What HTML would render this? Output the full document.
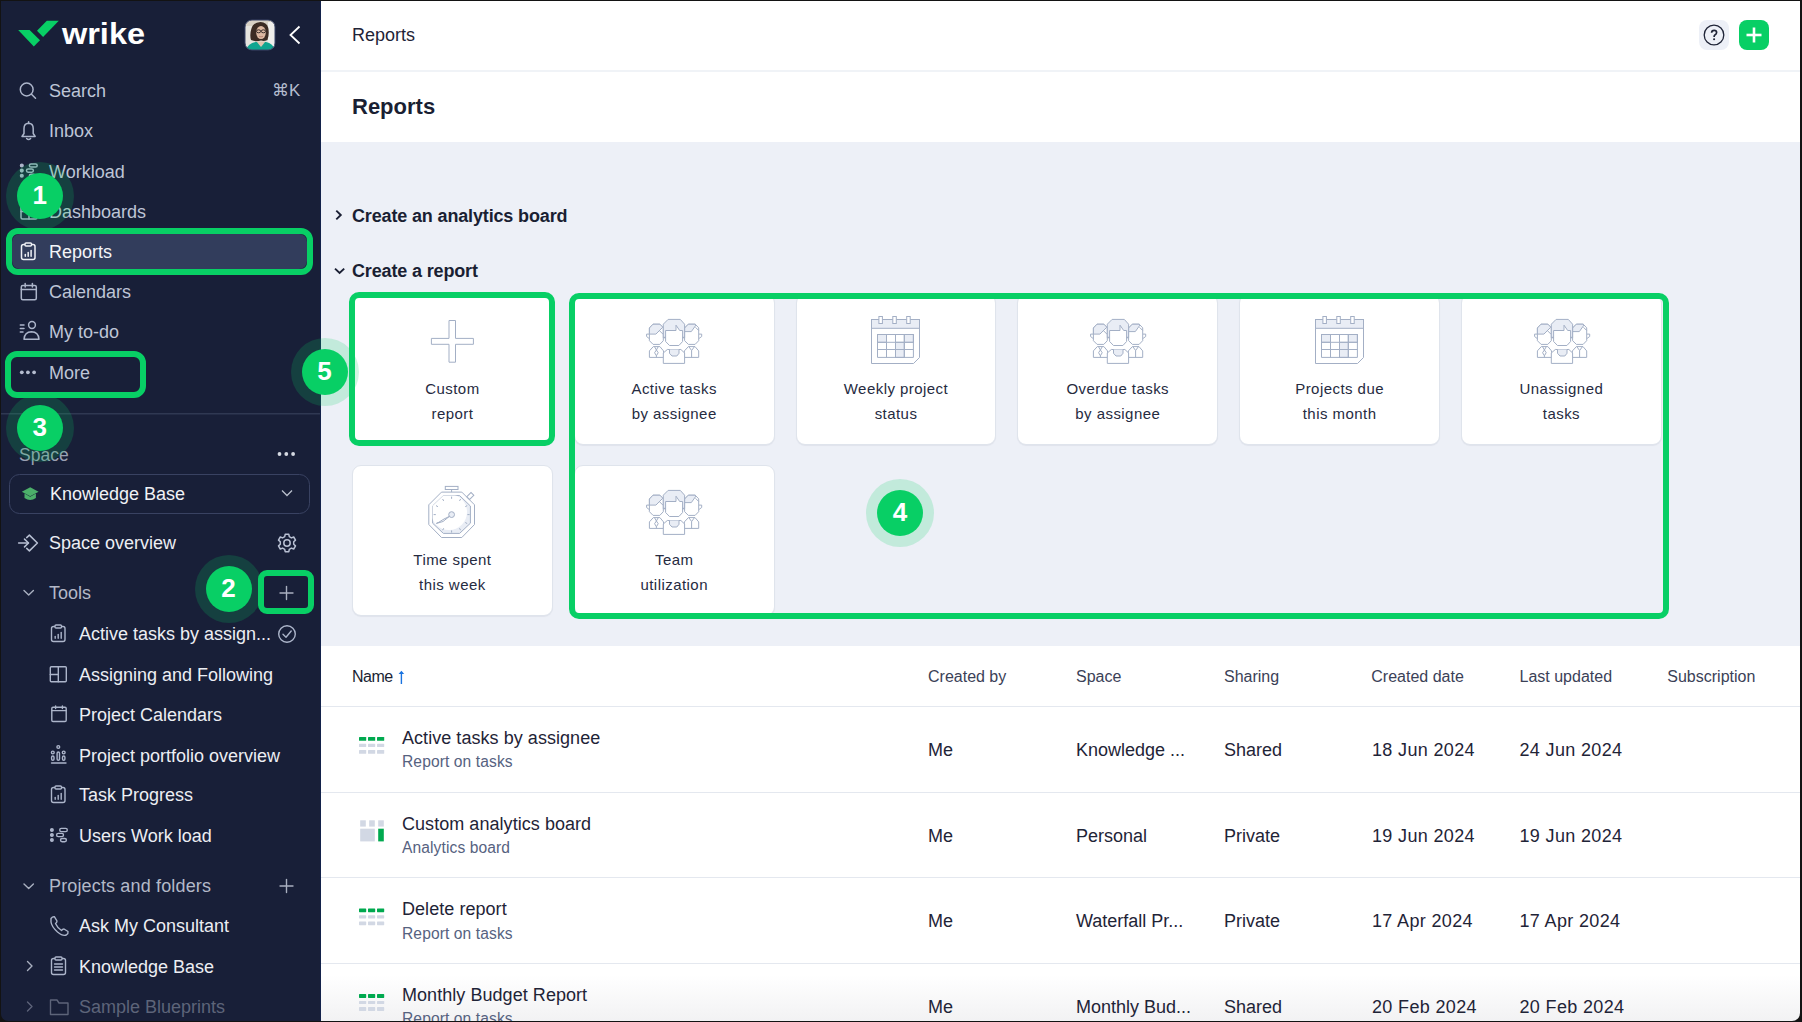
<!DOCTYPE html>
<html><head><meta charset="utf-8">
<style>
*{margin:0;padding:0;box-sizing:border-box}
html,body{width:1802px;height:1022px;overflow:hidden;background:#141414;font-family:"Liberation Sans",sans-serif}
.abs{position:absolute}
#win{position:absolute;left:0;top:0;width:1802px;height:1022px;overflow:hidden;background:#fff}
#side{position:absolute;left:0;top:0;width:321px;height:1022px;background:#181f38}
.ni{position:absolute;left:0;height:40px;line-height:40px;font-size:18px;color:#bec5d6;white-space:nowrap}
.ni svg{position:absolute}
.ni .t{position:absolute;left:49px;top:0}
.sub .t{left:79px}
#main{position:absolute;left:321px;top:0;width:1481px;height:1022px;background:#fff}
.card{position:absolute;width:200.8px;height:151px;background:#fff;border:1px solid #dfe4ec;border-radius:9px;box-shadow:0 1px 1px rgba(30,40,70,.06)}
.card .lbl{position:absolute;left:0;width:198.8px;text-align:center;font-size:15px;letter-spacing:.45px;line-height:25px;color:#262b3f}
.gbox{position:absolute;border:6px solid #08cf65;border-radius:10px}
.badge{position:absolute;width:68px;height:68px;border-radius:50%;background:rgba(8,207,101,.19)}
.badge b{position:absolute;left:11px;top:11px;width:46px;height:46px;border-radius:50%;background:#08cf65;color:#fff;font-size:26px;font-weight:bold;text-align:center;line-height:44px}
.th{position:absolute;top:666px;font-size:16px;line-height:22px;color:#3b4157;white-space:nowrap}
.td{position:absolute;font-size:18px;line-height:24px;color:#1f2437;white-space:nowrap}
.rt{position:absolute;left:402px;font-size:18px;line-height:24px;color:#1f2437;white-space:nowrap;letter-spacing:.05px}
.rs{position:absolute;left:402px;font-size:15.6px;line-height:22px;color:#56627f;white-space:nowrap;letter-spacing:.1px}
.hl{position:absolute;left:321px;width:1479px;height:1px;background:#e4e8ef}
</style></head><body>
<div id="win">
<div id="side">
<svg class="abs" style="left:0;top:0" width="321" height="1022" viewBox="0 0 321 1022">
 <!-- logo -->
 <polygon points="18.2,30 29.6,30 40,40.3 33.8,46.4" fill="#08cf65"/>
 <polygon points="37,30.8 46.8,20.8 58.8,20.8 43.1,37" fill="#08cf65"/>
 <text x="62" y="43.5" font-family="Liberation Sans" font-weight="bold" font-size="29" fill="#fff" textLength="83" lengthAdjust="spacingAndGlyphs">wrike</text>
 <!-- avatar -->
 <defs><clipPath id="av"><rect x="245" y="20" width="30" height="30" rx="7"/></clipPath></defs>
 <g clip-path="url(#av)">
  <rect x="245" y="20" width="30" height="30" fill="#e6e4de"/>
  <rect x="245" y="20" width="30" height="6" fill="#d8d2c6"/>
  <rect x="268" y="22" width="7" height="26" fill="#f0efeb"/>
  <path d="M251 40 Q249.5 35 251.3 29 Q253 22.3 260.5 22 Q267 22.3 268.3 28 Q269.5 34 267.5 40 Q264 41.5 261 40.5 Q256 42 251 40 Z" fill="#3b2c24"/>
  <ellipse cx="261" cy="32.5" rx="4.8" ry="6.6" fill="#dcb9a2"/>
  <ellipse cx="258.6" cy="31.3" rx="2.1" ry="1.5" stroke="#2a2220" stroke-width="0.9" fill="none"/><ellipse cx="263.4" cy="31.3" rx="2.1" ry="1.5" stroke="#2a2220" stroke-width="0.9" fill="none"/>
  <path d="M259 36.3 Q261 37.5 263 36.3" stroke="#b07a6a" stroke-width="0.8" fill="none"/>
  <path d="M246 50 Q248 43.5 255.5 42 L266 42 Q273 43.5 275 50 Z" fill="#10a590"/>
  <path d="M256.5 41.5 L261 47 L265.5 41.5 Z" fill="#e3c4ae"/>
 </g>
 <rect x="245" y="20" width="30" height="30" rx="7" fill="none" stroke="#3a4466" stroke-width="1"/>
 <!-- collapse chevron -->
 <polyline points="299.5,26.5 290.5,35 299.5,43.5" fill="none" stroke="#fff" stroke-width="1.8"/>
 <g fill="none" stroke="#acb5ca" stroke-width="1.5" stroke-linecap="round" stroke-linejoin="round">
  <!-- search -->
  <circle cx="26.7" cy="89.5" r="6.4"/>
  <line x1="31.5" y1="94.3" x2="35.5" y2="98.3"/>
  <!-- bell -->
  <path d="M22 136.5 L24 133.5 L24 128.5 Q24 123.5 28.6 123.3 Q33.2 123.5 33.2 128.5 L33.2 133.5 L35.2 136.5 Z"/>
  <path d="M26.6 138.5 Q28.6 140.5 30.6 138.5"/>
  <line x1="28.6" y1="121.8" x2="28.6" y2="123.2"/>
  <!-- workload -->
  <circle cx="21.8" cy="165.5" r="1.3" fill="#acb5ca"/><circle cx="21.8" cy="170.6" r="1.3" fill="#acb5ca"/><circle cx="21.8" cy="175.8" r="1.3" fill="#acb5ca"/>
  <rect x="29.4" y="163.9" width="7.8" height="3.2" rx="1.6"/>
  <rect x="26.5" y="169" width="6.9" height="3.2" rx="1.6"/>
  <rect x="29.4" y="174.2" width="5.9" height="3.2" rx="1.6"/>
  <!-- dashboards -->
  <rect x="21" y="204" width="16" height="15" rx="1.5"/>
  <line x1="21" y1="211.5" x2="37" y2="211.5"/><line x1="29" y1="204" x2="29" y2="219"/>
 </g>
 <!-- reports highlight -->
 <rect x="12" y="234" width="295" height="35" rx="8" fill="#323d5c"/>
 <g fill="none" stroke="#eef0f5" stroke-width="1.5" stroke-linecap="round" stroke-linejoin="round">
  <rect x="21.5" y="244.5" width="13.5" height="15" rx="2"/>
  <rect x="25" y="243" width="6.5" height="3" rx="1" fill="#323d5c"/>
  <line x1="25.3" y1="256.3" x2="25.3" y2="254.5"/><line x1="28.2" y1="256.3" x2="28.2" y2="252.5"/><line x1="31.1" y1="256.3" x2="31.1" y2="250.5"/>
 </g>
 <g fill="none" stroke="#acb5ca" stroke-width="1.5" stroke-linecap="round" stroke-linejoin="round">
  <!-- calendar -->
  <rect x="21.3" y="285.5" width="15" height="14.3" rx="1.5"/>
  <line x1="21.3" y1="289.6" x2="36.3" y2="289.6"/>
  <line x1="25.2" y1="283.5" x2="25.2" y2="287"/><line x1="32.4" y1="283.5" x2="32.4" y2="287"/>
  <!-- my to-do -->
  <circle cx="32" cy="325" r="3.4"/>
  <path d="M24 339.3 Q24.5 332 31.5 331.8 Q38.5 332 39 339.3 Z"/>
  <line x1="20.3" y1="325" x2="24" y2="325"/><line x1="20.3" y1="328.5" x2="24" y2="328.5"/><line x1="20.3" y1="332" x2="23" y2="332"/>
 </g>
 <g fill="#b4bccf"><circle cx="21.8" cy="372.3" r="1.9"/><circle cx="27.9" cy="372.3" r="1.9"/><circle cx="34.1" cy="372.3" r="1.9"/></g>
 <!-- separator -->
 <rect x="0" y="413" width="321" height="1.5" fill="#2f3852"/>
 <!-- space dots -->
 <g fill="#d5d9e2"><circle cx="279.5" cy="454" r="1.9"/><circle cx="286.3" cy="454" r="1.9"/><circle cx="293.1" cy="454" r="1.9"/></g>
 <!-- knowledge base dropdown -->
 <rect x="9.5" y="474.5" width="300" height="39" rx="10" fill="none" stroke="#394262" stroke-width="1"/>
 <path d="M21.8 491.8 L30.2 487.3 L38.6 491.8 L30.2 496.3 Z" fill="#4caf6a"/>
 <path d="M24.5 493.5 L24.5 498 Q30.2 501.8 35.9 498 L35.9 493.5 L30.2 496.8 Z" fill="#4caf6a"/>
 <polyline points="282,490.5 287,495.5 292,490.5" fill="none" stroke="#b9bfcc" stroke-width="1.3"/>
 <g fill="none" stroke="#b8c0d3" stroke-width="1.5" stroke-linecap="round" stroke-linejoin="round">
  <!-- space overview icon -->
  <line x1="18.6" y1="543" x2="28.4" y2="543"/>
  <polyline points="24.5,539.1 28.5,543 24.5,546.9"/>
  <polyline points="26.7,537.6 29.4,535.1 37.4,543 29.4,550.9 26.7,548.4"/>
  <!-- gear -->
  <circle cx="287" cy="543" r="3.2"/>
  <path d="M285.2 534.3 L288.8 534.3 L289.3 536.7 L291.4 537.9 L293.7 537 L295.5 540.1 L293.7 541.7 L293.7 544.3 L295.5 545.9 L293.7 549 L291.4 548.1 L289.3 549.3 L288.8 551.7 L285.2 551.7 L284.7 549.3 L282.6 548.1 L280.3 549 L278.5 545.9 L280.3 544.3 L280.3 541.7 L278.5 540.1 L280.3 537 L282.6 537.9 L284.7 536.7 Z"/>
 </g>
 <g fill="none" stroke="#a9b0c0" stroke-width="1.4" stroke-linecap="round" stroke-linejoin="round">
  <polyline points="24,590.5 28.7,595 33.4,590.5"/>
  <line x1="280" y1="593" x2="293" y2="593"/><line x1="286.5" y1="586.5" x2="286.5" y2="599.5"/>
  <polyline points="24,884 28.7,888.5 33.4,884"/>
  <line x1="280" y1="886" x2="293" y2="886"/><line x1="286.5" y1="879.5" x2="286.5" y2="892.5"/>
  <polyline points="27.5,961.5 32,966 27.5,970.5"/>
 </g>
 <g fill="none" stroke="#acb5ca" stroke-width="1.4" stroke-linecap="round" stroke-linejoin="round">
  <!-- sub icons -->
  <rect x="51.5" y="626.5" width="13.5" height="15" rx="2"/>
  <rect x="55" y="625" width="6.5" height="3" rx="1" fill="#181f38"/>
  <line x1="55.2" y1="638.3" x2="55.2" y2="636.5"/><line x1="58.2" y1="638.3" x2="58.2" y2="634.5"/><line x1="61.2" y1="638.3" x2="61.2" y2="632.5"/>
  <circle cx="287" cy="634" r="8.3"/>
  <polyline points="283,634.3 286,637.2 291.2,631"/>
  <rect x="50.3" y="666.8" width="16" height="15" rx="1"/>
  <line x1="50.3" y1="674.5" x2="58.3" y2="674.5"/><line x1="58.3" y1="666.8" x2="58.3" y2="681.8"/>
  <rect x="51.8" y="707.2" width="14.4" height="14.3" rx="1.2"/>
  <line x1="51.8" y1="710.6" x2="66.2" y2="710.6"/>
  <line x1="55.6" y1="705.9" x2="55.6" y2="708.6"/><line x1="62.4" y1="705.9" x2="62.4" y2="708.6"/>
  <line x1="51.5" y1="763" x2="66" y2="763"/>
  <circle cx="58.3" cy="747" r="1.4"/><circle cx="52.8" cy="752.5" r="1.4"/><circle cx="63.7" cy="752.5" r="1.4"/>
  <rect x="51.6" y="756" width="2.4" height="4.2" rx="1.2"/><rect x="57.1" y="752" width="2.4" height="8.2" rx="1.2"/><rect x="62.5" y="756" width="2.4" height="4.2" rx="1.2"/>
  <rect x="51.5" y="787.5" width="13.5" height="15" rx="2"/>
  <rect x="55" y="786" width="6.5" height="3" rx="1" fill="#181f38"/>
  <line x1="55.2" y1="799.3" x2="55.2" y2="797.5"/><line x1="58.2" y1="799.3" x2="58.2" y2="795.5"/><line x1="61.2" y1="799.3" x2="61.2" y2="793.5"/>
  <circle cx="51.9" cy="830" r="1.3" fill="#acb5ca"/><circle cx="51.9" cy="835" r="1.3" fill="#acb5ca"/><circle cx="51.9" cy="840.1" r="1.3" fill="#acb5ca"/>
  <rect x="59.7" y="828.4" width="7.6" height="3.2" rx="1.6"/>
  <rect x="56.6" y="833.4" width="6.9" height="3.2" rx="1.6"/>
  <rect x="60.5" y="838.5" width="5.9" height="3.2" rx="1.6"/>
  <!-- phone -->
  <path d="M51 918.5 Q52.5 916.5 54.5 916.8 L57 921 Q57 922.5 55.5 923.5 Q57.5 928 61.5 930.5 Q62.5 929 64 929 L68 931.5 Q68.5 933.5 66.3 935 Q63 936.5 57.5 932 Q51.5 926.5 51 922 Z"/>
  <!-- knowledge base clipboard -->
  <rect x="51.5" y="958.5" width="14" height="16" rx="2"/>
  <rect x="55" y="957" width="7" height="3" rx="1" fill="#181f38"/>
  <line x1="54.5" y1="964" x2="62.5" y2="964"/><line x1="54.5" y1="967" x2="62.5" y2="967"/><line x1="54.5" y1="970" x2="62.5" y2="970"/>
 </g>
 <g fill="none" stroke="#5d6479" stroke-width="1.4" stroke-linecap="round" stroke-linejoin="round">
  <polyline points="27.5,1002 32,1006.5 27.5,1011"/>
  <path d="M50.5 1000 L50.5 1014.5 L68 1014.5 L68 1003 L59 1003 L57 1000 Z"/>
 </g>
</svg>
<div class="ni" style="top:71.1px"><span class="t">Search</span><span style="position:absolute;left:272px;font-size:17px;color:#b4bccf">&#8984;K</span></div>
<div class="ni" style="top:111.3px"><span class="t">Inbox</span></div>
<div class="ni" style="top:151.5px"><span class="t">Workload</span></div>
<div class="ni" style="top:191.7px"><span class="t">Dashboards</span></div>
<div class="ni" style="top:231.9px;color:#f4f5f8"><span class="t">Reports</span></div>
<div class="ni" style="top:272.1px"><span class="t">Calendars</span></div>
<div class="ni" style="top:312.3px"><span class="t">My to-do</span></div>
<div class="ni" style="top:352.5px"><span class="t">More</span></div>
<div class="ni" style="top:434.7px;color:#9aa1b3;font-size:17.5px"><span class="t" style="left:19px">Space</span></div>
<div class="ni" style="top:473.8px;color:#f0f2f6"><span class="t" style="left:50px">Knowledge Base</span></div>
<div class="ni" style="top:522.7px;color:#eceef3"><span class="t">Space overview</span></div>
<div class="ni" style="top:572.8px;color:#b3b9c8"><span class="t">Tools</span></div>
<div class="ni sub" style="top:614.2px;color:#eceef3"><span class="t">Active tasks by assign...</span></div>
<div class="ni sub" style="top:654.7px;color:#eceef3"><span class="t">Assigning and Following</span></div>
<div class="ni sub" style="top:694.8px;color:#eceef3"><span class="t">Project Calendars</span></div>
<div class="ni sub" style="top:735.5px;color:#eceef3"><span class="t">Project portfolio overview</span></div>
<div class="ni sub" style="top:775.3px;color:#eceef3"><span class="t">Task Progress</span></div>
<div class="ni sub" style="top:815.9px;color:#eceef3"><span class="t">Users Work load</span></div>
<div class="ni" style="top:866.3px;color:#b3b9c8"><span class="t" style="letter-spacing:.15px">Projects and folders</span></div>
<div class="ni sub" style="top:906.2px;color:#eceef3"><span class="t">Ask My Consultant</span></div>
<div class="ni sub" style="top:946.6px;color:#eceef3"><span class="t">Knowledge Base</span></div>
<div class="ni sub" style="top:986.6px;color:#5d6479"><span class="t">Sample Blueprints</span></div>
</div>
<div id="main"></div>
<div class="abs" style="left:321px;top:70px;width:1479px;height:2px;background:#f0f3f7"></div>
<div class="abs" style="left:320px;top:0;width:1px;height:1022px;background:#13224a"></div>
<div class="abs" style="left:352px;top:23.3px;font-size:18px;line-height:24px;color:#1f2437">Reports</div>
<div class="abs" style="left:1699px;top:20px;width:30px;height:30px;border-radius:8px;background:#edf0f7"></div>
<div class="abs" style="left:1739px;top:20px;width:30px;height:30px;border-radius:8px;background:#08cf65"></div>
<svg class="abs" style="left:1699px;top:20px" width="70" height="30" viewBox="0 0 70 30">
 <circle cx="15" cy="15" r="9.8" fill="none" stroke="#1f2437" stroke-width="1.3"/>
 <path d="M12.6 12.8 Q12.6 10.3 15.1 10.3 Q17.6 10.3 17.6 12.6 Q17.6 14.1 15.9 15 Q15.1 15.5 15.1 16.9" fill="none" stroke="#1f2437" stroke-width="1.7"/>
 <circle cx="15.1" cy="19.3" r="1.05" fill="#1f2437"/>
 <line x1="47.5" y1="15" x2="62.5" y2="15" stroke="#fff" stroke-width="2.6"/>
 <line x1="55" y1="7.5" x2="55" y2="22.5" stroke="#fff" stroke-width="2.6"/>
</svg>
<div class="abs" style="left:352px;top:92.7px;font-size:22px;line-height:28px;font-weight:bold;color:#1a1f33">Reports</div>
<div class="abs" style="left:321px;top:142px;width:1479px;height:504px;background:#edf0f7"></div>
<svg class="abs" style="left:330px;top:205px" width="20" height="75" viewBox="0 0 20 75">
 <polyline points="6.3,5.6 10.8,10 6.3,14.4" fill="none" stroke="#1a1f33" stroke-width="1.9"/>
 <polyline points="5,63.6 9.6,68 14.2,63.6" fill="none" stroke="#1a1f33" stroke-width="1.9"/>
</svg>
<div class="abs" style="left:352px;top:203.7px;font-size:18px;line-height:24px;font-weight:bold;color:#1a1f33;letter-spacing:-.15px">Create an analytics board</div>
<div class="abs" style="left:352px;top:259.1px;font-size:18px;line-height:24px;font-weight:bold;color:#1a1f33;letter-spacing:-.15px">Create a report</div>
<div class="card" style="left:352.0px;top:294px"><div class="lbl" style="top:80.9px">Custom<br>report</div></div>
<div class="card" style="left:573.8px;top:294px"><div class="lbl" style="top:80.9px">Active tasks<br>by assignee</div></div>
<div class="card" style="left:795.6px;top:294px"><div class="lbl" style="top:80.9px">Weekly project<br>status</div></div>
<div class="card" style="left:1017.4px;top:294px"><div class="lbl" style="top:80.9px">Overdue tasks<br>by assignee</div></div>
<div class="card" style="left:1239.2px;top:294px"><div class="lbl" style="top:80.9px">Projects due<br>this month</div></div>
<div class="card" style="left:1461.0px;top:294px"><div class="lbl" style="top:80.9px">Unassigned<br>tasks</div></div>
<div class="card" style="left:352.0px;top:465px"><div class="lbl" style="top:80.9px">Time spent<br>this week</div></div>
<div class="card" style="left:573.8px;top:465px"><div class="lbl" style="top:80.9px">Team<br>utilization</div></div>

<svg class="abs" style="left:0;top:0" width="1802" height="1022" viewBox="0 0 1802 1022"><polygon points="449,320.5 455.5,320.5 455.5,338.4 473.4,338.4 473.4,344.3 455.5,344.3 455.5,362.2 449,362.2 449,344.3 431.4,344.3 431.4,338.4 449,338.4" fill="none" stroke="#a3afc5" stroke-width="1"/><g transform="translate(640,312)"><g fill="none" stroke="#a3afc5" stroke-width="1" stroke-linejoin="miter">
 <path d="M6.6 22.1 L9.4 22.1 M6.6 22.1 L6.6 24.5 L9.4 26.7"/>
 <path d="M61.7 22.1 L58.7 22.1 M61.7 22.1 L61.7 24.5 L58.7 26.7"/>
 <polygon points="13,12.2 19.9,12.2 23.3,15.8 23.3,28.7 19.8,32.4 13.1,32.4 9.4,28.7 9.4,16" fill="#fff"/>
 <polygon points="9.4,16 13,12.2 19.9,12.2 22.8,15.2 15.9,22.1 9.4,22.1" fill="#e9edf5"/>
 <line x1="19.8" y1="19" x2="23.3" y2="22.5"/>
 <polygon points="48.3,12.2 55.2,12.2 58.7,15.8 58.7,28.7 55.1,32.4 48.4,32.4 44.6,28.7 44.6,16" fill="#fff"/>
 <polygon points="44.6,16 48.3,12.2 55.2,12.2 56,13 51.3,19.6 44.6,19.6" fill="#e9edf5"/>
 <line x1="55.5" y1="15.3" x2="58.7" y2="18.5"/>
 <path d="M23.3 25.8 L23.3 12.2 L28.1 7.4 L40.3 7.4 L44.6 12.2 L44.6 25.8 Z" fill="#e9edf5"/>
 <polygon points="25.6,18.5 36,18.5 36,13.2 39.7,18.5 42.6,18.5 42.6,29.5 38.9,33.5 29.5,33.5 25.6,29.5" fill="#fff"/>
 <line x1="23.3" y1="25.3" x2="25.6" y2="25.3"/><line x1="42.6" y1="25.3" x2="44.6" y2="25.3"/>
 <polygon points="9.4,45.4 9.4,38.9 13.3,34.6 19.9,34.6 23.5,38.9 23.5,45.4" fill="#fff"/>
 <path d="M14.5 34.6 L16.4 38 L18.3 34.6 M16.4 38 L18.2 40.7 L16.4 43.8 L14.6 40.7 Z M16.4 43.8 L16.4 45.4"/>
 <polygon points="44.4,45.4 44.4,38.9 48.4,34.6 55,34.6 58.7,38.9 58.7,45.4" fill="#fff"/>
 <path d="M48.8 34.6 L51.6 38.5 L54.5 34.6 M51.6 38.5 L51.6 45.4"/>
 <polygon points="23.3,51.4 23.3,41 27.3,37.5 40.9,37.5 44.6,41 44.6,51.4" fill="#fff"/>
 <path d="M29.5 37.5 L29.5 41.3 L32 44 L36.8 44 L39 41.3 L39 37.5" fill="#e9edf5"/>
</g></g><g transform="translate(1084,312)"><g fill="none" stroke="#a3afc5" stroke-width="1" stroke-linejoin="miter">
 <path d="M6.6 22.1 L9.4 22.1 M6.6 22.1 L6.6 24.5 L9.4 26.7"/>
 <path d="M61.7 22.1 L58.7 22.1 M61.7 22.1 L61.7 24.5 L58.7 26.7"/>
 <polygon points="13,12.2 19.9,12.2 23.3,15.8 23.3,28.7 19.8,32.4 13.1,32.4 9.4,28.7 9.4,16" fill="#fff"/>
 <polygon points="9.4,16 13,12.2 19.9,12.2 22.8,15.2 15.9,22.1 9.4,22.1" fill="#e9edf5"/>
 <line x1="19.8" y1="19" x2="23.3" y2="22.5"/>
 <polygon points="48.3,12.2 55.2,12.2 58.7,15.8 58.7,28.7 55.1,32.4 48.4,32.4 44.6,28.7 44.6,16" fill="#fff"/>
 <polygon points="44.6,16 48.3,12.2 55.2,12.2 56,13 51.3,19.6 44.6,19.6" fill="#e9edf5"/>
 <line x1="55.5" y1="15.3" x2="58.7" y2="18.5"/>
 <path d="M23.3 25.8 L23.3 12.2 L28.1 7.4 L40.3 7.4 L44.6 12.2 L44.6 25.8 Z" fill="#e9edf5"/>
 <polygon points="25.6,18.5 36,18.5 36,13.2 39.7,18.5 42.6,18.5 42.6,29.5 38.9,33.5 29.5,33.5 25.6,29.5" fill="#fff"/>
 <line x1="23.3" y1="25.3" x2="25.6" y2="25.3"/><line x1="42.6" y1="25.3" x2="44.6" y2="25.3"/>
 <polygon points="9.4,45.4 9.4,38.9 13.3,34.6 19.9,34.6 23.5,38.9 23.5,45.4" fill="#fff"/>
 <path d="M14.5 34.6 L16.4 38 L18.3 34.6 M16.4 38 L18.2 40.7 L16.4 43.8 L14.6 40.7 Z M16.4 43.8 L16.4 45.4"/>
 <polygon points="44.4,45.4 44.4,38.9 48.4,34.6 55,34.6 58.7,38.9 58.7,45.4" fill="#fff"/>
 <path d="M48.8 34.6 L51.6 38.5 L54.5 34.6 M51.6 38.5 L51.6 45.4"/>
 <polygon points="23.3,51.4 23.3,41 27.3,37.5 40.9,37.5 44.6,41 44.6,51.4" fill="#fff"/>
 <path d="M29.5 37.5 L29.5 41.3 L32 44 L36.8 44 L39 41.3 L39 37.5" fill="#e9edf5"/>
</g></g><g transform="translate(1528,312)"><g fill="none" stroke="#a3afc5" stroke-width="1" stroke-linejoin="miter">
 <path d="M6.6 22.1 L9.4 22.1 M6.6 22.1 L6.6 24.5 L9.4 26.7"/>
 <path d="M61.7 22.1 L58.7 22.1 M61.7 22.1 L61.7 24.5 L58.7 26.7"/>
 <polygon points="13,12.2 19.9,12.2 23.3,15.8 23.3,28.7 19.8,32.4 13.1,32.4 9.4,28.7 9.4,16" fill="#fff"/>
 <polygon points="9.4,16 13,12.2 19.9,12.2 22.8,15.2 15.9,22.1 9.4,22.1" fill="#e9edf5"/>
 <line x1="19.8" y1="19" x2="23.3" y2="22.5"/>
 <polygon points="48.3,12.2 55.2,12.2 58.7,15.8 58.7,28.7 55.1,32.4 48.4,32.4 44.6,28.7 44.6,16" fill="#fff"/>
 <polygon points="44.6,16 48.3,12.2 55.2,12.2 56,13 51.3,19.6 44.6,19.6" fill="#e9edf5"/>
 <line x1="55.5" y1="15.3" x2="58.7" y2="18.5"/>
 <path d="M23.3 25.8 L23.3 12.2 L28.1 7.4 L40.3 7.4 L44.6 12.2 L44.6 25.8 Z" fill="#e9edf5"/>
 <polygon points="25.6,18.5 36,18.5 36,13.2 39.7,18.5 42.6,18.5 42.6,29.5 38.9,33.5 29.5,33.5 25.6,29.5" fill="#fff"/>
 <line x1="23.3" y1="25.3" x2="25.6" y2="25.3"/><line x1="42.6" y1="25.3" x2="44.6" y2="25.3"/>
 <polygon points="9.4,45.4 9.4,38.9 13.3,34.6 19.9,34.6 23.5,38.9 23.5,45.4" fill="#fff"/>
 <path d="M14.5 34.6 L16.4 38 L18.3 34.6 M16.4 38 L18.2 40.7 L16.4 43.8 L14.6 40.7 Z M16.4 43.8 L16.4 45.4"/>
 <polygon points="44.4,45.4 44.4,38.9 48.4,34.6 55,34.6 58.7,38.9 58.7,45.4" fill="#fff"/>
 <path d="M48.8 34.6 L51.6 38.5 L54.5 34.6 M51.6 38.5 L51.6 45.4"/>
 <polygon points="23.3,51.4 23.3,41 27.3,37.5 40.9,37.5 44.6,41 44.6,51.4" fill="#fff"/>
 <path d="M29.5 37.5 L29.5 41.3 L32 44 L36.8 44 L39 41.3 L39 37.5" fill="#e9edf5"/>
</g></g><g transform="translate(640,483)"><g fill="none" stroke="#a3afc5" stroke-width="1" stroke-linejoin="miter">
 <path d="M6.6 22.1 L9.4 22.1 M6.6 22.1 L6.6 24.5 L9.4 26.7"/>
 <path d="M61.7 22.1 L58.7 22.1 M61.7 22.1 L61.7 24.5 L58.7 26.7"/>
 <polygon points="13,12.2 19.9,12.2 23.3,15.8 23.3,28.7 19.8,32.4 13.1,32.4 9.4,28.7 9.4,16" fill="#fff"/>
 <polygon points="9.4,16 13,12.2 19.9,12.2 22.8,15.2 15.9,22.1 9.4,22.1" fill="#e9edf5"/>
 <line x1="19.8" y1="19" x2="23.3" y2="22.5"/>
 <polygon points="48.3,12.2 55.2,12.2 58.7,15.8 58.7,28.7 55.1,32.4 48.4,32.4 44.6,28.7 44.6,16" fill="#fff"/>
 <polygon points="44.6,16 48.3,12.2 55.2,12.2 56,13 51.3,19.6 44.6,19.6" fill="#e9edf5"/>
 <line x1="55.5" y1="15.3" x2="58.7" y2="18.5"/>
 <path d="M23.3 25.8 L23.3 12.2 L28.1 7.4 L40.3 7.4 L44.6 12.2 L44.6 25.8 Z" fill="#e9edf5"/>
 <polygon points="25.6,18.5 36,18.5 36,13.2 39.7,18.5 42.6,18.5 42.6,29.5 38.9,33.5 29.5,33.5 25.6,29.5" fill="#fff"/>
 <line x1="23.3" y1="25.3" x2="25.6" y2="25.3"/><line x1="42.6" y1="25.3" x2="44.6" y2="25.3"/>
 <polygon points="9.4,45.4 9.4,38.9 13.3,34.6 19.9,34.6 23.5,38.9 23.5,45.4" fill="#fff"/>
 <path d="M14.5 34.6 L16.4 38 L18.3 34.6 M16.4 38 L18.2 40.7 L16.4 43.8 L14.6 40.7 Z M16.4 43.8 L16.4 45.4"/>
 <polygon points="44.4,45.4 44.4,38.9 48.4,34.6 55,34.6 58.7,38.9 58.7,45.4" fill="#fff"/>
 <path d="M48.8 34.6 L51.6 38.5 L54.5 34.6 M51.6 38.5 L51.6 45.4"/>
 <polygon points="23.3,51.4 23.3,41 27.3,37.5 40.9,37.5 44.6,41 44.6,51.4" fill="#fff"/>
 <path d="M29.5 37.5 L29.5 41.3 L32 44 L36.8 44 L39 41.3 L39 37.5" fill="#e9edf5"/>
</g></g><g transform="translate(871,316)"><g fill="none" stroke="#a3afc5" stroke-width="1">
 <path d="M0.5 3.5 L48.5 3.5 L48.5 41.5 L42.5 47.5 L0.5 47.5 Z" fill="#fff"/>
 <rect x="0.5" y="3.5" width="48" height="8.8" fill="#e9edf5"/>
 <rect x="6.5" y="18.5" width="9.0" height="7.800000000000011" fill="#e9edf5"/><rect x="33.299999999999955" y="18.5" width="9.100000000000023" height="7.800000000000011" fill="#e9edf5"/><rect x="24.5" y="26.30000000000001" width="8.799999999999955" height="7.199999999999989" fill="#e9edf5"/><rect x="24.5" y="33.5" width="8.799999999999955" height="7.899999999999977" fill="#e9edf5"/><line x1="6.5" y1="18.5" x2="6.5" y2="41.39999999999998"/><line x1="15.5" y1="18.5" x2="15.5" y2="41.39999999999998"/><line x1="24.5" y1="18.5" x2="24.5" y2="41.39999999999998"/><line x1="33.299999999999955" y1="18.5" x2="33.299999999999955" y2="41.39999999999998"/><line x1="42.39999999999998" y1="18.5" x2="42.39999999999998" y2="41.39999999999998"/><line x1="6.5" y1="18.5" x2="42.39999999999998" y2="18.5"/><line x1="6.5" y1="26.30000000000001" x2="42.39999999999998" y2="26.30000000000001"/><line x1="6.5" y1="33.5" x2="42.39999999999998" y2="33.5"/><line x1="6.5" y1="41.39999999999998" x2="42.39999999999998" y2="41.39999999999998"/><rect x="7.899999999999977" y="0.5" width="3.5" height="7" fill="#fff"/><rect x="21.799999999999955" y="0.5" width="3.5" height="7" fill="#fff"/><rect x="35.700000000000045" y="0.5" width="3.5" height="7" fill="#fff"/>
</g></g><g transform="translate(1315,316)"><g fill="none" stroke="#a3afc5" stroke-width="1">
 <path d="M0.5 3.5 L48.5 3.5 L48.5 41.5 L42.5 47.5 L0.5 47.5 Z" fill="#fff"/>
 <rect x="0.5" y="3.5" width="48" height="8.8" fill="#e9edf5"/>
 <rect x="6.5" y="18.5" width="9.0" height="7.800000000000011" fill="#e9edf5"/><rect x="33.299999999999955" y="18.5" width="9.100000000000023" height="7.800000000000011" fill="#e9edf5"/><rect x="24.5" y="26.30000000000001" width="8.799999999999955" height="7.199999999999989" fill="#e9edf5"/><rect x="24.5" y="33.5" width="8.799999999999955" height="7.899999999999977" fill="#e9edf5"/><line x1="6.5" y1="18.5" x2="6.5" y2="41.39999999999998"/><line x1="15.5" y1="18.5" x2="15.5" y2="41.39999999999998"/><line x1="24.5" y1="18.5" x2="24.5" y2="41.39999999999998"/><line x1="33.299999999999955" y1="18.5" x2="33.299999999999955" y2="41.39999999999998"/><line x1="42.39999999999998" y1="18.5" x2="42.39999999999998" y2="41.39999999999998"/><line x1="6.5" y1="18.5" x2="42.39999999999998" y2="18.5"/><line x1="6.5" y1="26.30000000000001" x2="42.39999999999998" y2="26.30000000000001"/><line x1="6.5" y1="33.5" x2="42.39999999999998" y2="33.5"/><line x1="6.5" y1="41.39999999999998" x2="42.39999999999998" y2="41.39999999999998"/><rect x="7.899999999999977" y="0.5" width="3.5" height="7" fill="#fff"/><rect x="21.799999999999955" y="0.5" width="3.5" height="7" fill="#fff"/><rect x="35.700000000000045" y="0.5" width="3.5" height="7" fill="#fff"/>
</g></g><g transform="translate(417,480)"><g fill="none" stroke="#a3afc5" stroke-width="1">
 <polygon points="24.5,12.1 44.8,12.1 57.5,24.8 57.5,44.5 44.8,57.5 24.5,57.5 11.8,44.5 11.8,24.8" fill="#fff"/>
 <polygon points="26.4,15.6 42.6,15.6 53.4,26 53.4,43.2 42.6,53.4 26.4,53.4 15.6,43.2 15.6,26" fill="#e9edf5"/>
 <clipPath id="swc"><polygon points="26.4,15.6 42.6,15.6 53.4,26 53.4,43.2 42.6,53.4 26.4,53.4 15.6,43.2 15.6,26"/></clipPath><circle cx="32" cy="32" r="18" fill="#fff" stroke="none" clip-path="url(#swc)"/>
 <rect x="28.3" y="6.4" width="12.7" height="3.1"/>
 <line x1="34.6" y1="9.5" x2="34.6" y2="12.1"/>
 <rect x="51.3" y="13" width="4" height="6" transform="rotate(45 53.3 16)"/>
 <line x1="34.60" y1="18.80" x2="34.60" y2="16.60"/><line x1="42.50" y1="20.92" x2="43.60" y2="19.01"/><line x1="48.28" y1="26.70" x2="50.19" y2="25.60"/><line x1="50.40" y1="34.60" x2="52.60" y2="34.60"/><line x1="48.28" y1="42.50" x2="50.19" y2="43.60"/><line x1="42.50" y1="48.28" x2="43.60" y2="50.19"/><line x1="34.60" y1="50.40" x2="34.60" y2="52.60"/><line x1="26.70" y1="48.28" x2="25.60" y2="50.19"/><line x1="20.92" y1="42.50" x2="19.01" y2="43.60"/><line x1="18.80" y1="34.60" x2="16.60" y2="34.60"/><line x1="20.92" y1="26.70" x2="19.01" y2="25.60"/><line x1="26.70" y1="20.92" x2="25.60" y2="19.01"/>
 <circle cx="34.6" cy="34.6" r="2.9" fill="#e9edf5"/>
 <path d="M32.4 36.4 L27 39 L20.3 43.2 L26 41.5 Z"/>
</g></g></svg>
<div class="gbox" style="left:349px;top:292px;width:206px;height:154px"></div>
<div class="gbox" style="left:569px;top:293px;width:1100px;height:326px"></div>
<div class="th" style="left:352px;letter-spacing:-.5px;color:#1a1f33">Name</div>
<svg class="abs" style="left:396px;top:668px" width="10" height="18" viewBox="0 0 10 18"><line x1="5.4" y1="5" x2="5.4" y2="16" stroke="#1a73e0" stroke-width="1.4"/><polygon points="2.6,6.1 5.4,2.8 8.2,6.1" fill="#1a73e0"/></svg>
<div class="th" style="left:928px">Created by</div>
<div class="th" style="left:1076px">Space</div>
<div class="th" style="left:1224px">Sharing</div>
<div class="th" style="left:1371.3px">Created date</div>
<div class="th" style="left:1519.5px">Last updated</div>
<div class="th" style="left:1667.3px">Subscription</div>
<div class="abs" style="left:321px;top:975px;width:1479px;height:47px;background:linear-gradient(rgba(238,238,240,0),rgba(236,236,238,.7))"></div>
<div class="hl" style="top:706px"></div>
<div class="rt" style="top:725.8px">Active tasks by assignee</div><div class="rs" style="top:751.1px">Report on tasks</div><div class="td" style="left:928px;top:738.0px">Me</div><div class="td" style="left:1076px;top:738.0px">Knowledge ...</div><div class="td" style="left:1224px;top:738.0px">Shared</div><div class="td" style="left:1372px;top:738.0px"><span style="letter-spacing:.35px">18 Jun 2024</span></div><div class="td" style="left:1519.5px;top:738.0px"><span style="letter-spacing:.35px">24 Jun 2024</span></div><div class="hl" style="top:791.7px"></div><div class="rt" style="top:811.5px">Custom analytics board</div><div class="rs" style="top:836.8px">Analytics board</div><div class="td" style="left:928px;top:823.7px">Me</div><div class="td" style="left:1076px;top:823.7px">Personal</div><div class="td" style="left:1224px;top:823.7px">Private</div><div class="td" style="left:1372px;top:823.7px"><span style="letter-spacing:.35px">19 Jun 2024</span></div><div class="td" style="left:1519.5px;top:823.7px"><span style="letter-spacing:.35px">19 Jun 2024</span></div><div class="hl" style="top:877.4px"></div><div class="rt" style="top:897.2px">Delete report</div><div class="rs" style="top:922.5px">Report on tasks</div><div class="td" style="left:928px;top:909.4px">Me</div><div class="td" style="left:1076px;top:909.4px">Waterfall Pr...</div><div class="td" style="left:1224px;top:909.4px">Private</div><div class="td" style="left:1372px;top:909.4px"><span style="letter-spacing:.35px">17 Apr 2024</span></div><div class="td" style="left:1519.5px;top:909.4px"><span style="letter-spacing:.35px">17 Apr 2024</span></div><div class="hl" style="top:963.1px"></div><div class="rt" style="top:982.9px">Monthly Budget Report</div><div class="rs" style="top:1008.2px">Report on tasks</div><div class="td" style="left:928px;top:995.1px">Me</div><div class="td" style="left:1076px;top:995.1px">Monthly Bud...</div><div class="td" style="left:1224px;top:995.1px">Shared</div><div class="td" style="left:1372px;top:995.1px"><span style="letter-spacing:.35px">20 Feb 2024</span></div><div class="td" style="left:1519.5px;top:995.1px"><span style="letter-spacing:.35px">20 Feb 2024</span></div>
<svg class="abs" style="left:0;top:0" width="1802" height="1022" viewBox="0 0 1802 1022"><rect x="359" y="737.0" width="7.2" height="3.8" rx=".6" fill="#00a94f"/><rect x="368" y="737.0" width="7.2" height="3.8" rx=".6" fill="#00a94f"/><rect x="377" y="737.0" width="7.2" height="3.8" rx=".6" fill="#00a94f"/><rect x="359" y="743.8" width="7.2" height="3.2" rx=".6" fill="#d2d8e4"/><rect x="368" y="743.8" width="7.2" height="3.2" rx=".6" fill="#d2d8e4"/><rect x="377" y="743.8" width="7.2" height="3.2" rx=".6" fill="#d2d8e4"/><rect x="359" y="750.0" width="7.2" height="3.8" rx=".6" fill="#d2d8e4"/><rect x="368" y="750.0" width="7.2" height="3.8" rx=".6" fill="#d2d8e4"/><rect x="377" y="750.0" width="7.2" height="3.8" rx=".6" fill="#d2d8e4"/><rect x="360.2" y="820.3" width="5.6" height="6.3" fill="#d2d8e4"/><rect x="369.2" y="820.3" width="5.6" height="6.3" fill="#d2d8e4"/><rect x="378.2" y="820.3" width="5.6" height="6.3" fill="#d2d8e4"/><rect x="360.2" y="828.7" width="14.6" height="12.7" fill="#d2d8e4"/><rect x="378.2" y="828.7" width="5.6" height="12.7" fill="#00a94f"/><rect x="359" y="908.4" width="7.2" height="3.8" rx=".6" fill="#00a94f"/><rect x="368" y="908.4" width="7.2" height="3.8" rx=".6" fill="#00a94f"/><rect x="377" y="908.4" width="7.2" height="3.8" rx=".6" fill="#00a94f"/><rect x="359" y="915.2" width="7.2" height="3.2" rx=".6" fill="#d2d8e4"/><rect x="368" y="915.2" width="7.2" height="3.2" rx=".6" fill="#d2d8e4"/><rect x="377" y="915.2" width="7.2" height="3.2" rx=".6" fill="#d2d8e4"/><rect x="359" y="921.4" width="7.2" height="3.8" rx=".6" fill="#d2d8e4"/><rect x="368" y="921.4" width="7.2" height="3.8" rx=".6" fill="#d2d8e4"/><rect x="377" y="921.4" width="7.2" height="3.8" rx=".6" fill="#d2d8e4"/><rect x="359" y="994.1" width="7.2" height="3.8" rx=".6" fill="#00a94f"/><rect x="368" y="994.1" width="7.2" height="3.8" rx=".6" fill="#00a94f"/><rect x="377" y="994.1" width="7.2" height="3.8" rx=".6" fill="#00a94f"/><rect x="359" y="1000.9" width="7.2" height="3.2" rx=".6" fill="#d2d8e4"/><rect x="368" y="1000.9" width="7.2" height="3.2" rx=".6" fill="#d2d8e4"/><rect x="377" y="1000.9" width="7.2" height="3.2" rx=".6" fill="#d2d8e4"/><rect x="359" y="1007.1" width="7.2" height="3.8" rx=".6" fill="#d2d8e4"/><rect x="368" y="1007.1" width="7.2" height="3.8" rx=".6" fill="#d2d8e4"/><rect x="377" y="1007.1" width="7.2" height="3.8" rx=".6" fill="#d2d8e4"/></svg>

<div class="gbox" style="left:6px;top:228px;width:307px;height:47px;border-radius:12px"></div>
<div class="gbox" style="left:5px;top:351px;width:141px;height:47px;border-radius:12px"></div>
<div class="gbox" style="left:258px;top:570px;width:56px;height:44px;border-radius:9px"></div>
<div class="badge" style="left:5.700000000000003px;top:161.7px"><b>1</b></div><div class="badge" style="left:194.5px;top:555.4px"><b>2</b></div><div class="badge" style="left:5.799999999999997px;top:394px"><b>3</b></div><div class="badge" style="left:865.9px;top:478.6px"><b>4</b></div><div class="badge" style="left:290.5px;top:337.9px"><b>5</b></div>
</div>
<div class="abs" style="left:1px;top:1px;width:1799px;height:1020px;border-radius:0 0 8px 7px;box-shadow:0 0 0 12px #131313;pointer-events:none"></div>
</body></html>
